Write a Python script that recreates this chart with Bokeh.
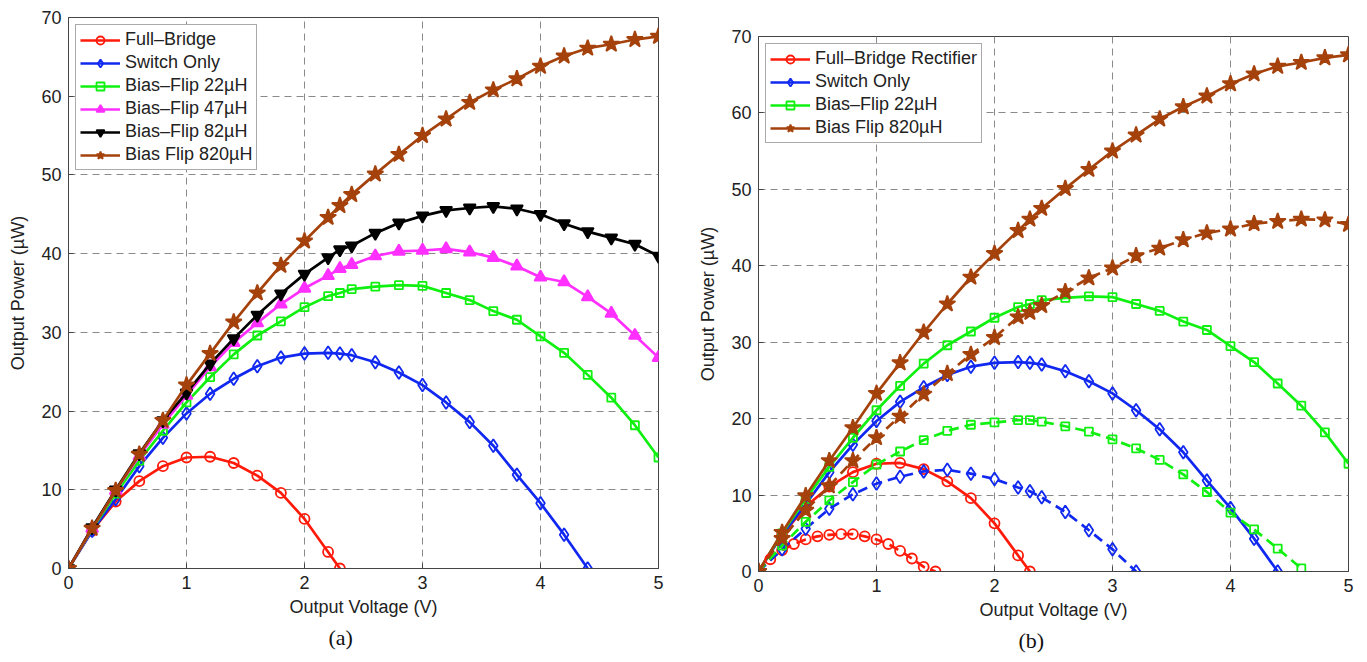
from bokeh.plotting import figure
from bokeh.layouts import row, column
from bokeh.models import Title, Legend, LegendItem, Range1d, FixedTicker, Spacer
from bokeh.embed import file_html
from bokeh.resources import INLINE

# ---------------- data (Output Voltage V, Output Power uW) ----------------
v_fb = [0, 0.2, 0.4, 0.6, 0.8, 1.0, 1.2, 1.4, 1.6, 1.8, 2.0, 2.2, 2.3]
p_fb = [0, 4.8, 8.5, 11.1, 13.0, 14.1, 14.2, 13.4, 11.8, 9.6, 6.3, 2.1, 0]

v_sw = [0, 0.2, 0.4, 0.6, 0.8, 1.0, 1.2, 1.4, 1.6, 1.8, 2.0, 2.2, 2.3, 2.4,
        2.6, 2.8, 3.0, 3.2, 3.4, 3.6, 3.8, 4.0, 4.2, 4.4]
p_sw = [0, 4.8, 8.8, 13.0, 16.6, 19.7, 22.2, 24.1, 25.7, 26.8, 27.3, 27.4, 27.3, 27.1,
        26.2, 24.9, 23.3, 21.1, 18.6, 15.6, 11.9, 8.3, 4.3, 0]

v_all = [0, 0.2, 0.4, 0.6, 0.8, 1.0, 1.2, 1.4, 1.6, 1.8, 2.0, 2.2, 2.3, 2.4,
         2.6, 2.8, 3.0, 3.2, 3.4, 3.6, 3.8, 4.0, 4.2, 4.4, 4.6, 4.8, 5.0]
p_bf22 = [0, 5.0, 9.5, 13.7, 17.5, 21.1, 24.3, 27.2, 29.6, 31.4, 33.2, 34.6, 35.0, 35.5,
          35.8, 36.0, 35.9, 35.0, 34.1, 32.7, 31.6, 29.5, 27.4, 24.6, 21.7, 18.2, 14.1]
p_bf47 = [0, 5.1, 9.9, 14.3, 18.3, 22.0, 25.6, 28.7, 31.2, 33.6, 35.6, 37.2, 38.1, 38.6,
          39.7, 40.3, 40.4, 40.6, 40.2, 39.5, 38.4, 37.0, 36.4, 34.5, 32.4, 29.6, 26.8]
p_bf82 = [0, 5.2, 10.0, 14.6, 18.8, 22.3, 26.0, 29.2, 32.2, 34.9, 37.4, 39.5, 40.5, 41.0,
          42.6, 43.9, 44.8, 45.5, 45.8, 46.0, 45.7, 45.0, 43.8, 42.8, 42.0, 41.2, 39.7]
p_bf820 = [0, 5.1, 9.9, 14.5, 18.8, 23.3, 27.3, 31.3, 35.0, 38.5, 41.6, 44.6, 46.1, 47.5,
           50.1, 52.6, 55.0, 57.1, 59.2, 60.8, 62.2, 63.8, 65.1, 66.1, 66.6, 67.2, 67.6]

# dashed series of panel (b)
v_fb_d = [0, 0.1, 0.2, 0.3, 0.4, 0.5, 0.6, 0.7, 0.8, 0.9, 1.0, 1.1, 1.2, 1.3, 1.4, 1.5]
p_fb_d = [0, 1.6, 2.8, 3.6, 4.2, 4.6, 4.8, 4.9, 4.9, 4.6, 4.2, 3.6, 2.7, 1.7, 0.6, 0]

v_sw_d = [0, 0.2, 0.4, 0.6, 0.8, 1.0, 1.2, 1.4, 1.6, 1.8, 2.0, 2.2, 2.3, 2.4,
          2.6, 2.8, 3.0, 3.2]
p_sw_d = [0, 2.9, 5.6, 8.2, 10.1, 11.5, 12.4, 13.1, 13.3, 12.8, 12.1, 11.0, 10.5, 9.7,
          7.8, 5.4, 2.9, 0]

v_bf22_d = [0, 0.2, 0.4, 0.6, 0.8, 1.0, 1.2, 1.4, 1.6, 1.8, 2.0, 2.2, 2.3, 2.4,
            2.6, 2.8, 3.0, 3.2, 3.4, 3.6, 3.8, 4.0, 4.2, 4.4, 4.6]
p_bf22_d = [0, 3.4, 6.5, 9.3, 11.7, 14.0, 15.7, 17.2, 18.4, 19.2, 19.5, 19.8, 19.8, 19.6,
            19.0, 18.3, 17.3, 16.1, 14.6, 12.7, 10.4, 7.7, 5.5, 3.0, 0.4]

p_bf820_d = [0, 4.3, 8.0, 11.2, 14.5, 17.5, 20.3, 23.2, 25.9, 28.4, 30.6, 33.3, 33.9, 34.8,
             36.6, 38.4, 39.7, 41.3, 42.3, 43.4, 44.3, 44.8, 45.5, 45.8, 46.1, 46.0, 45.4]

x_ticks = [0, 1, 2, 3, 4, 5]
y_ticks = [0, 10, 20, 30, 40, 50, 60, 70]

labels_a = ["Full\u2013Bridge", "Switch Only", "Bias\u2013Flip 22\u00b5H",
            "Bias\u2013Flip 47\u00b5H", "Bias\u2013Flip 82\u00b5H", "Bias Flip 820\u00b5H"]
labels_b = ["Full\u2013Bridge Rectifier", "Switch Only", "Bias\u2013Flip 22\u00b5H",
            "Bias Flip 820\u00b5H"]

# ---------------- styles ----------------
RED = "#FF1A0A"
BLUE = "#1028F0"
GREEN = "#10F010"
MAGENTA = "#FF30FF"
BLACK = "#000000"
BROWN = "#A5420C"
FONT = "Liberation Sans"
FS = "18px"
LW = 2.7


def make_fig(frame_h, top, bottom, left, right, caption):
    p = figure(frame_width=590, frame_height=frame_h,
               min_border_left=left, min_border_right=right,
               min_border_top=top, min_border_bottom=bottom,
               x_range=Range1d(0, 5), y_range=Range1d(0, 70),
               output_backend="svg", toolbar_location=None)
    p.xaxis.ticker = FixedTicker(ticks=x_ticks)
    p.yaxis.ticker = FixedTicker(ticks=y_ticks)
    for ax in (p.xaxis[0], p.yaxis[0]):
        ax.major_tick_in = 5
        ax.major_tick_out = 0
        ax.minor_tick_line_color = None
        ax.axis_line_color = "#444444"
        ax.major_tick_line_color = "#444444"
        ax.major_label_text_font = FONT
        ax.major_label_text_font_size = FS
        ax.major_label_text_color = "#222222"
        ax.axis_label_text_font = FONT
        ax.axis_label_text_font_size = FS
        ax.axis_label_text_font_style = "normal"
        ax.axis_label_text_color = "#222222"
    p.xaxis.axis_label = "Output Voltage (V)"
    p.yaxis.axis_label = "Output Power (\u00b5W)"
    p.xaxis.major_label_standoff = 7
    p.yaxis.major_label_standoff = 7
    p.xaxis.axis_label_standoff = 5
    p.yaxis.axis_label_standoff = 10
    for g in (p.xgrid[0], p.ygrid[0]):
        g.grid_line_color = "#8a8a8a"
        g.grid_line_dash = "7 5"
        g.grid_line_width = 1
    p.outline_line_color = "#444444"
    p.outline_line_alpha = 1
    p.background_fill_color = "white"
    p.border_fill_color = "white"
    t = Title(text=caption, align="left", text_font="Liberation Serif",
              text_font_size="22px", text_font_style="normal",
              text_color="#111111", offset=260, standoff=7)
    p.add_layout(t, "below")
    return p


def series(p, x, y, color, marker, size, filled, dash="solid"):
    ln = p.line(x, y, line_color=color, line_width=LW, line_dash=dash)
    sc = p.scatter(x, y, marker=marker, size=size, line_color=color,
                   line_width=1.8,
                   fill_color=color if filled else None)
    return [ln, sc]


def style_legend(p, items):
    leg = Legend(items=items, location="top_left")
    leg.margin = 7
    leg.padding = 4
    leg.spacing = 2
    leg.label_text_font = FONT
    leg.label_text_font_size = FS
    leg.label_text_color = "#222222"
    leg.label_height = 20
    leg.glyph_height = 20
    leg.glyph_width = 40
    leg.label_standoff = 5
    leg.border_line_color = "#555555"
    leg.border_line_width = 1
    leg.background_fill_color = "white"
    leg.background_fill_alpha = 1
    p.add_layout(leg, "center")


# ---------------- panel (a) ----------------
pa = make_fig(551, 17, 86, 68, 37, "(a)")
ra = [
    series(pa, v_fb, p_fb, RED, "circle", 10, False),
    series(pa, v_sw, p_sw, BLUE, "diamond", 13, False),
    series(pa, v_all, p_bf22, GREEN, "square", 8, False),
    series(pa, v_all, p_bf47, MAGENTA, "triangle", 12, True),
    series(pa, v_all, p_bf82, BLACK, "inverted_triangle", 12, True),
    series(pa, v_all, p_bf820, BROWN, "star", 17, True),
]
style_legend(pa, [LegendItem(label=l, renderers=r) for l, r in zip(labels_a, ra)])

# ---------------- panel (b) ----------------
pb = make_fig(535, 17, 83, 61, 10, "(b)")
rb = [
    series(pb, v_fb, p_fb, RED, "circle", 10, False),
    series(pb, v_sw, p_sw, BLUE, "diamond", 13, False),
    series(pb, v_all, p_bf22, GREEN, "square", 8, False),
    series(pb, v_all, p_bf820, BROWN, "star", 17, True),
]
DASH = "10 6"
series(pb, v_fb_d, p_fb_d, RED, "circle", 10, False, DASH)
series(pb, v_sw_d, p_sw_d, BLUE, "diamond", 13, False, DASH)
series(pb, v_bf22_d, p_bf22_d, GREEN, "square", 8, False, DASH)
series(pb, v_all, p_bf820_d, BROWN, "star", 17, True, DASH)
style_legend(pb, [LegendItem(label=l, renderers=r) for l, r in zip(labels_b, rb)])

layout = row(pa, column(Spacer(width=661, height=19), pb, spacing=0), spacing=0)
open("out.html", "w").write(file_html(layout, INLINE))
